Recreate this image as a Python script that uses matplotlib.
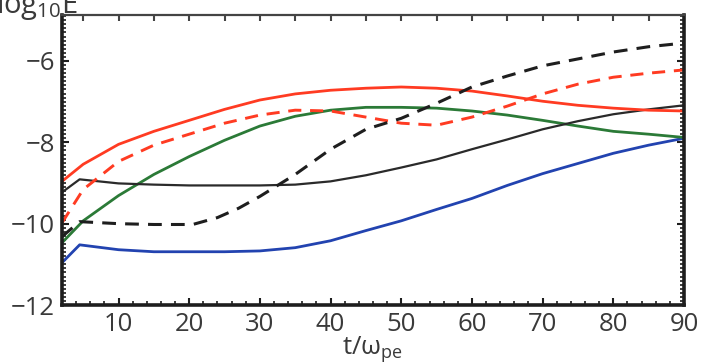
import numpy as np
import matplotlib
matplotlib.use("Agg")
import matplotlib.pyplot as plt
from matplotlib.ticker import MultipleLocator

# === Data ===
t = [2, 5, 10, 15, 20, 25, 30, 35, 40, 45, 50, 55, 60, 65, 70, 75, 80, 85, 90]
t_kink = [2, 4.5, 10, 15, 20, 25, 30, 35, 40, 45, 50, 55, 60, 65, 70, 75, 80, 85, 90]
t_dash = [2, 4.5, 10, 15, 20.5, 24, 27, 30, 35, 40, 45, 50, 55, 60, 65, 70, 75, 80, 85, 90]

red_solid = [-8.96, -8.54, -8.05, -7.73, -7.46, -7.19, -6.96, -6.81, -6.72, -6.67,
             -6.64, -6.67, -6.74, -6.86, -6.99, -7.09, -7.16, -7.21, -7.23]
red_dashed = [-9.98, -9.16, -8.47, -8.07, -7.80, -7.53, -7.33, -7.21, -7.23, -7.38,
              -7.53, -7.58, -7.38, -7.11, -6.81, -6.57, -6.40, -6.30, -6.22]
green = [-10.47, -9.93, -9.31, -8.79, -8.35, -7.95, -7.60, -7.36, -7.21, -7.14,
         -7.14, -7.16, -7.23, -7.33, -7.46, -7.60, -7.73, -7.80, -7.88]
black_solid = [-9.23, -8.91, -9.01, -9.04, -9.06, -9.06, -9.06, -9.04, -8.96, -8.81,
               -8.62, -8.42, -8.17, -7.93, -7.68, -7.48, -7.31, -7.19, -7.09]
black_dashed = [-10.32, -9.95, -10.00, -10.02, -10.02, -9.85, -9.62, -9.33, -8.79, -8.17,
                -7.68, -7.41, -7.04, -6.64, -6.37, -6.12, -5.95, -5.78, -5.65, -5.56]
blue = [-10.96, -10.52, -10.64, -10.69, -10.69, -10.69, -10.67, -10.59, -10.42, -10.17,
        -9.93, -9.65, -9.38, -9.06, -8.77, -8.52, -8.27, -8.07, -7.90]

x_ticks = [10, 20, 30, 40, 50, 60, 70, 80, 90]
y_ticks = [-12, -10, -8, -6]

# === Style ===
plt.rcParams["font.family"] = ["Open Sans", "DejaVu Sans"]
plt.rcParams["mathtext.fontset"] = "custom"
plt.rcParams["mathtext.rm"] = "Open Sans"
plt.rcParams["mathtext.it"] = "Open Sans:italic"

TXT = "#3a3a3a"
RED = "#ff3b22"
GREEN = "#2b7a37"
BLUE = "#2243b0"
BLACK = "#1e1e1e"

fig = plt.figure(figsize=(7.01, 3.64), dpi=100)
ax = fig.add_axes([0.0884, 0.162, 0.8873, 0.7968])

ax.plot(t_kink, blue, color=BLUE, lw=2.0)
ax.plot(t, green, color=GREEN, lw=2.0)
ax.plot(t_kink, black_solid, color="#2a2a2a", lw=1.6)
ax.plot(t, red_solid, color=RED, lw=2.0)
ax.plot(t, red_dashed, color=RED, lw=2.1, dashes=(4.5, 3))
ax.plot(t_dash, black_dashed, color=BLACK, lw=2.2, dashes=(4.5, 3))

ax.set_xlim(2, 90)
ax.set_ylim(-12, -4.87)
ax.set_xticks(x_ticks)
ax.set_yticks(y_ticks)
ax.set_yticklabels(["\u221212", "\u221210", "\u22128", "\u22126"])
ax.xaxis.set_minor_locator(MultipleLocator(2))
ax.yaxis.set_minor_locator(MultipleLocator(0.1))

ax.tick_params(which="both", direction="in", top=False, right=True,
               colors=BLACK, labelcolor=TXT, labelsize=18.5, pad=5)
ax.tick_params(which="major", length=5, width=1.5)
ax.tick_params(which="minor", length=3, width=1.2)

for side in ["left", "bottom", "right"]:
    ax.spines[side].set_linewidth(2.6)
    ax.spines[side].set_color(BLACK)
ax.spines["top"].set_linewidth(1.6)
ax.spines["top"].set_color("#444444")

# top axis ticks every 5 units, no labels
top = ax.secondary_xaxis("top")
top.set_xticks(np.arange(5, 91, 5))
top.tick_params(direction="in", length=4, width=1.5, labeltop=False, colors="#444444")
top.spines["top"].set_visible(False)

ax.set_xlabel(r"$\mathrm{t/\omega_{pe}}$", fontsize=18.5, color=TXT, labelpad=-2)
fig.text(-0.006, 1 - 13 / 364, r"$\mathrm{log_{10}E}$", fontsize=21, color=TXT,
         ha="left", va="baseline")

fig.savefig("out.png", dpi=100)
